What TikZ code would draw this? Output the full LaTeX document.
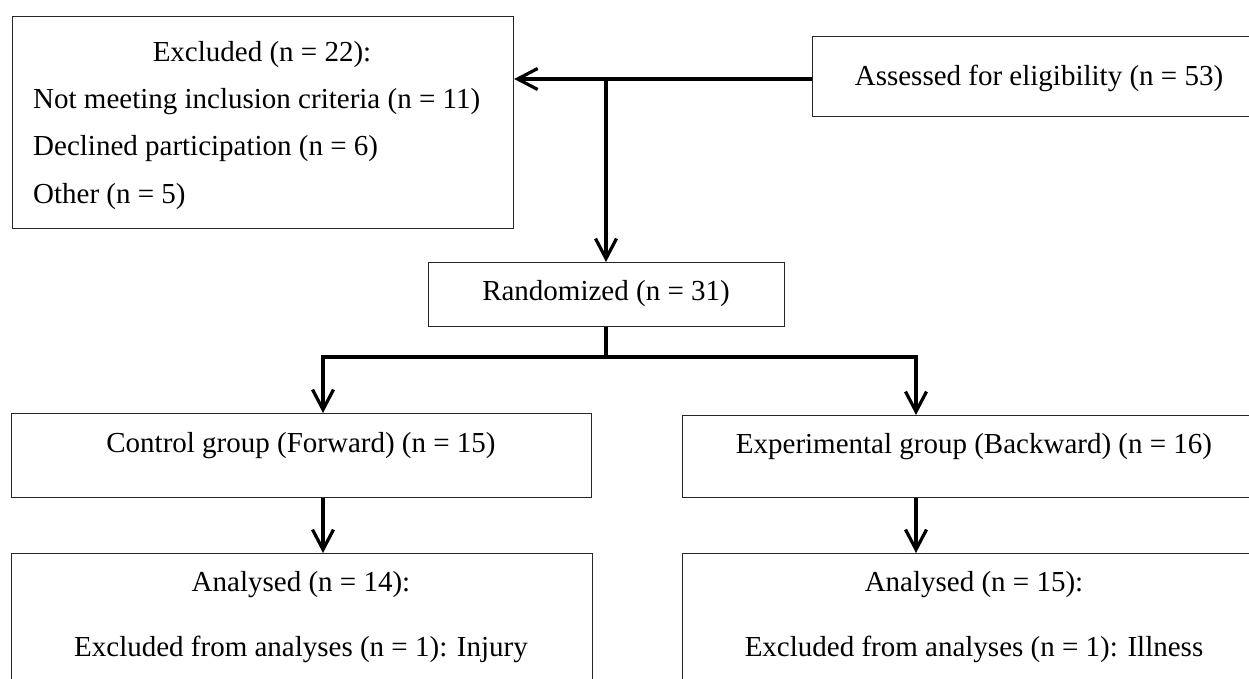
\documentclass[tikz,border=0pt]{standalone}
\usepackage{fontspec}
\setmainfont{Liberation Serif}
\usetikzlibrary{arrows.meta, positioning}

\begin{document}
\begin{tikzpicture}[x=1pt, y=-1pt, font=\fontsize{29}{34}\selectfont,
	box/.style={draw=black!85, line width=1.2pt, rectangle, inner sep=0pt, anchor=north west},
	txt/.style={anchor=base, inner sep=0pt},
	flow/.style={line width=3.2pt, -{Straight Barb[length=20pt, width=21pt]}},
	bar/.style={line width=4.2pt, line cap=rect}]
	\useasboundingbox (0,0) rectangle (1249,679);
	\clip (0,0) rectangle (1249,679);
	\node[box, minimum width=501pt, minimum height=212pt] (excl) at (12,16) {};
	\node[box, minimum width=454pt, minimum height=80pt] (assess) at (812,36) {};
	\node[box, minimum width=356pt, minimum height=64pt] (rand) at (428,262) {};
	\node[box, minimum width=580pt, minimum height=84pt] (ctrl) at (11,413) {};
	\node[box, minimum width=584pt, minimum height=82pt] (exper) at (682,415) {};
	\node[box, minimum width=581pt, minimum height=170pt] (ana1) at (11,553) {};
	\node[box, minimum width=584pt, minimum height=170pt] (ana2) at (682,553) {};

	\node[txt] (exclT) at (262,62) {Excluded (n = 22):};
	\node[txt, anchor=base west] (exclA) at (33,109) {Not meeting inclusion criteria (n = 11)};
	\node[txt, anchor=base west] (exclB) at (33,156) {Declined participation (n = 6)};
	\node[txt, anchor=base west] (exclC) at (33,203) {Other (n = 5)};
	\node[txt] (assessT) at (1039,86) {Assessed for eligibility (n = 53)};
	\node[txt] (randT) at (606,300) {Randomized (n = 31)};
	\node[txt] (ctrlT) at (301,452) {Control group (Forward) (n = 15)};
	\node[txt] (experT) at (974,453) {Experimental group (Backward) (n = 16)};
	\node[txt] (ana1T) at (301,591) {Analysed (n = 14):};
	\node[txt] (ana1X) at (301,656) {Excluded from analyses (n = 1): Injury};
	\node[txt] (ana2T) at (974,591) {Analysed (n = 15):};
	\node[txt] (ana2X) at (974,656) {Excluded from analyses (n = 1): Illness};

	\coordinate (j1) at (606,79);
	\coordinate (j2) at (606,357);
	\coordinate (jl) at (323,357);
	\coordinate (jr) at (916,357);

	\draw[flow] (assess.west |- j1) -- (excl.east |- j1);
	\draw[flow] (j1) -- (rand.north -| j1);
	\draw[line width=3.2pt] (rand.south -| j2) -- (j2);
	\draw[bar] (jl) -- (jr);
	\draw[flow] (jl) -- (jl |- ctrl.north);
	\draw[flow] (jr) -- (jr |- exper.north);
	\draw[flow] (ctrl.south -| jl) -- (ana1.north -| jl);
	\draw[flow] (exper.south -| jr) -- (ana2.north -| jr);
\end{tikzpicture}
\end{document}
